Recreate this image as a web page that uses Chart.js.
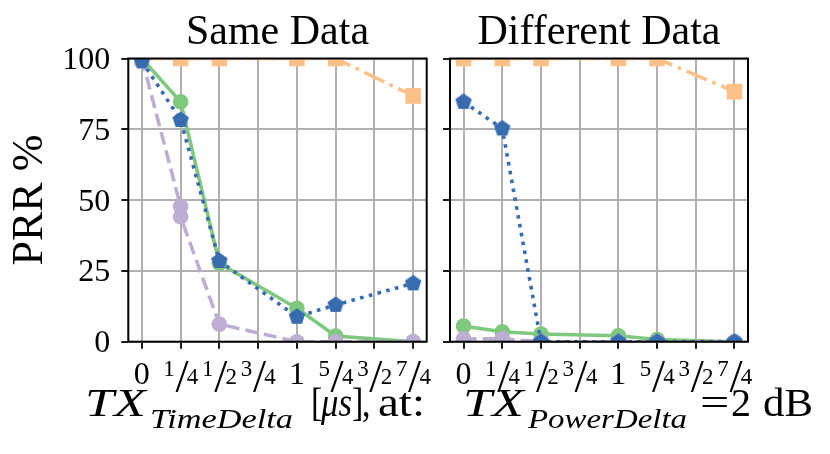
<!DOCTYPE html>
<html>
<head>
<meta charset="utf-8">
<script src="https://cdn.jsdelivr.net/npm/chart.js@4"></script>
<style>
html, body { margin: 0; padding: 0; background: #fff; }
#wrap { position: relative; width: 830px; height: 454px; }
canvas { position: absolute; left: 0; top: 0; }
</style>
</head>
<body>
<div id="wrap">
  <canvas id="sameChart" width="830" height="454"></canvas>
  <canvas id="diffChart" width="830" height="454"></canvas>
</div>
<script>
/* PRR vs TX time delta — same data / different data panels */
var tickValues = [0, 0.25, 0.5, 0.75, 1, 1.25, 1.5, 1.75];
var tickLabels = ['0', '1/4', '1/2', '3/4', '1', '5/4', '3/2', '7/4'];
var yTickValues = [0, 25, 50, 75, 100];

var xValues = [0, 0.25, 0.5, 1, 1.25, 1.75];
var xValuesSamePurple = [0, 0.25, 0.25, 0.5, 1, 1.25, 1.75];

var sameOrange = [100, 100, 100, 100, 100, 86.8];
var sameGreen  = [100, 84.7, 27.7, 11.8, 2.0, 0];
var sameBlue   = [99, 78.3, 28.5, 8.8, 13.0, 20.6];
var samePurple = [100, 47.7, 44.1, 6.2, 0, 0, 0];

var diffOrange = [100, 100, 100, 100, 100, 88.3];
var diffGreen  = [5.5, 3.5, 2.7, 2.1, 0.8, 0];
var diffBlue   = [84.7, 75.3, 0, 0, 0, 0];
var diffPurple = [1, 1, 0, 0, 0, 0];

var C_ORANGE = '#fdc086', C_GREEN = '#7fc97f', C_BLUE = '#386cb0', C_PURPLE = '#beaed4';
var SERIF = '"Liberation Serif", "DejaVu Serif", serif';

function pentagon(color, r) {
    var c = document.createElement('canvas');
    var s = Math.ceil(r * 2) + 2;
    c.width = c.height = s;
    var g = c.getContext('2d');
    g.fillStyle = color;
    g.beginPath();
    for (var i = 0; i < 5; i++) {
        var a = -Math.PI / 2 + i * 2 * Math.PI / 5;
        g.lineTo(s / 2 + r * Math.cos(a), s / 2 + r * Math.sin(a));
    }
    g.closePath();
    g.fill();
    return c;
}
var pentaMarker = pentagon(C_BLUE, 8.6);

function pts(xs, ys) {
    return ys.map(function(y, i) { return { x: xs[i], y: y }; });
}

function series(data, color, style, radius, dash) {
    return {
        data: data, borderColor: color, backgroundColor: color,
        pointBackgroundColor: color, pointBorderWidth: 0,
        pointStyle: style, pointRadius: radius,
        borderWidth: 3.6, borderDash: dash, clip: 0, tension: 0
    };
}

// first dataset is drawn on top
function datasets(blue, purpleX, purple, green, orange) {
    return [
        series(pts(xValues, blue), C_BLUE, pentaMarker, 8, [3.6, 5.4]),
        series(pts(purpleX, purple), C_PURPLE, 'circle', 7.8, [13, 6]),
        series(pts(xValues, green), C_GREEN, 'circle', 7.8, []),
        series(pts(xValues, orange), C_ORANGE, 'rect', 11, [22, 6, 3.6, 6])
    ];
}

var gridOpts = { color: '#b0b0b0', lineWidth: 2, tickColor: '#000', tickLength: 7, tickWidth: 1.8 };

function scales(showY, yWidth) {
    return {
        x: {
            type: 'linear', min: -0.0875, max: 1.8375,
            afterBuildTicks: function(s) { s.ticks = tickValues.map(function(v) { return { value: v }; }); },
            afterFit: function(s) { s.height = 50; },
            ticks: { display: false },
            grid: gridOpts, border: { display: false }
        },
        y: {
            min: 0, max: 100,
            afterBuildTicks: function(s) { s.ticks = yTickValues.map(function(v) { return { value: v }; }); },
            afterFit: function(s) { s.width = yWidth; },
            ticks: { display: showY, padding: 11, labelOffset: 2, color: '#000', font: { family: SERIF, size: 32 } },
            title: { display: showY, text: 'PRR %', color: '#000', font: { family: SERIF, size: 44 }, padding: { top: 4, bottom: 4 } },
            grid: gridOpts, border: { display: false }
        }
    };
}

var framePlugin = {
    id: 'frame',
    afterDatasetsDraw: function(chart) {
        var a = chart.chartArea, ctx = chart.ctx;
        ctx.save();
        ctx.strokeStyle = '#000';
        ctx.lineWidth = 2;
        ctx.strokeRect(a.left, a.top, a.right - a.left, a.bottom - a.top);
        ctx.restore();
    }
};

var xTickTextPlugin = {
    id: 'xTickText',
    afterDraw: function(chart) {
        var ctx = chart.ctx, xs = chart.scales.x, base = chart.chartArea.bottom + 42;
        ctx.save();
        ctx.fillStyle = '#000';
        ctx.textAlign = 'center';
        ctx.textBaseline = 'alphabetic';
        tickLabels.forEach(function(lab, i) {
            var c = xs.getPixelForValue(tickValues[i]);
            var p = lab.split('/');
            if (p.length === 1) {
                ctx.font = '32px ' + SERIF;
                ctx.fillText(lab, c, base);
            } else {
                ctx.font = '23px ' + SERIF;
                ctx.fillText(p[0], c - 11.5, base - 7.5);
                ctx.fillText(p[1], c + 12, base);
                ctx.font = '47px ' + SERIF;
                ctx.fillText('/', c + 1.5, base + 8);
            }
        });
        ctx.restore();
    }
};

function titlePlugin(text) {
    return {
        id: 'panelTitle',
        afterDraw: function(chart) {
            var a = chart.chartArea, ctx = chart.ctx;
            ctx.save();
            ctx.fillStyle = '#000';
            ctx.font = '42px ' + SERIF;
            ctx.textAlign = 'center';
            ctx.textBaseline = 'alphabetic';
            ctx.fillText(text, (a.left + a.right) / 2, a.top - 14.5);
            ctx.restore();
        }
    };
}

// x-axis label pieces: text, left/right extent, italic, size, baseline
var xLabelParts = [
    { t: 'TX', x0: 85, x1: 147, it: true, size: 40, y: 416 },
    { t: 'TimeDelta', x0: 150, x1: 293, it: true, size: 28, y: 428 },
    { t: '[', x0: 311, x1: 321, it: false, size: 40, y: 416 },
    { t: 'μs', x0: 321, x1: 352, it: true, size: 40, y: 416 },
    { t: ']', x0: 352, x1: 361, it: false, size: 40, y: 416 },
    { t: ',', x0: 362, x1: 369, it: false, size: 40, y: 416 },
    { t: 'at:', x0: 378, x1: 425, it: false, size: 40, y: 416 },
    { t: 'TX', x0: 463, x1: 525, it: true, size: 40, y: 416 },
    { t: 'PowerDelta', x0: 528, x1: 687, it: true, size: 28, y: 428 },
    { t: '=', x0: 700, x1: 730, it: false, size: 40, y: 416 },
    { t: '2', x0: 731, x1: 751, it: false, size: 40, y: 416 },
    { t: 'dB', x0: 763, x1: 813, it: false, size: 40, y: 416 }
];

var xLabelPlugin = {
    id: 'xLabel',
    afterDraw: function(chart) {
        var ctx = chart.ctx;
        ctx.save();
        ctx.fillStyle = '#000';
        ctx.textAlign = 'left';
        ctx.textBaseline = 'alphabetic';
        xLabelParts.forEach(function(p) {
            ctx.font = (p.it ? 'italic ' : '') + p.size + 'px ' + SERIF;
            var w = ctx.measureText(p.t).width;
            var sx = Math.min(1.3, Math.max(0.85, (p.x1 - p.x0) / w));
            ctx.save();
            ctx.translate(p.x0, p.y);
            ctx.scale(sx, 1);
            ctx.fillText(p.t, 0, 0);
            ctx.restore();
        });
        ctx.restore();
    }
};

var common = {
    responsive: false, animation: false,
    plugins: { legend: { display: false }, tooltip: { enabled: false } }
};

new Chart(document.getElementById('sameChart').getContext('2d'), {
    type: 'line',
    data: { datasets: datasets(sameBlue, xValuesSamePurple, samePurple, sameGreen, sameOrange) },
    options: Object.assign({}, common, {
        layout: { padding: { left: 0, top: 58.5, right: 403.3, bottom: 62.3 } },
        scales: scales(true, 128.3)
    }),
    plugins: [framePlugin, xTickTextPlugin, titlePlugin('Same Data'), xLabelPlugin]
});

new Chart(document.getElementById('diffChart').getContext('2d'), {
    type: 'line',
    data: { datasets: datasets(diffBlue, xValues, diffPurple, diffGreen, diffOrange) },
    options: Object.assign({}, common, {
        layout: { padding: { left: 430, top: 58.5, right: 82, bottom: 62.3 } },
        scales: scales(false, 20)
    }),
    plugins: [framePlugin, xTickTextPlugin, titlePlugin('Different Data')]
});
</script>
</body>
</html>
